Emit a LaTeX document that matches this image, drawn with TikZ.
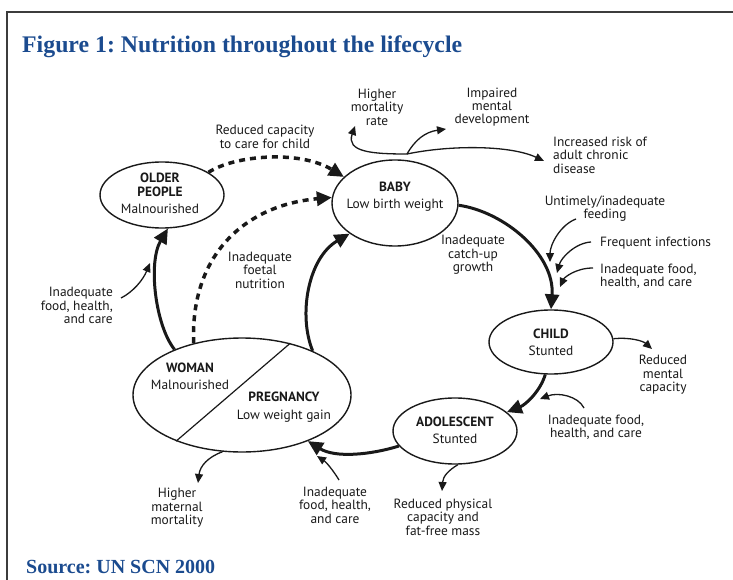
\documentclass[tikz,border=0pt]{standalone}
\usepackage{fontspec}
\setmainfont{PT Sans}
\newfontfamily\headfont{Liberation Serif}
\usetikzlibrary{arrows.meta,shapes.geometric}
\definecolor{headblue}{RGB}{27,75,143}
\definecolor{framegray}{RGB}{60,60,60}
\definecolor{ink}{RGB}{25,25,25}
\frenchspacing
\begin{document}
\begin{tikzpicture}[x=1pt,y=-1pt,
  stage/.style={ellipse, draw=ink, line width=1.4pt, inner sep=0pt},
  lbl/.style={font=\fontsize{13.4}{13.4}\selectfont, text=ink, align=center, inner sep=0pt},
  cycle/.style={line width=3pt, draw=ink, -{Triangle[length=15pt,width=14pt]}},
  dashcycle/.style={line width=3.5pt, draw=ink, dash pattern=on 6pt off 5pt, -{Triangle[length=15pt,width=14pt]}},
  effect/.style={line width=1.3pt, draw=ink, -{Triangle[length=9pt,width=8pt]}},
  heading/.style={text=headblue, inner sep=0pt, anchor=base west},
]
\useasboundingbox (0,0) rectangle (733,580);

% frame
\draw[framegray, line width=1.5pt] (733,12) -- (7,12) -- (7,580);

% headings
\node[heading, font=\fontsize{23.8}{26}\selectfont\headfont\bfseries] (title) at (22,53)
  {Figure 1: Nutrition throughout the lifecycle};
\node[heading, font=\fontsize{20}{24}\selectfont\headfont\bfseries] (source) at (26,573)
  {Source: UN SCN 2000};

% life stages
\node[stage, minimum width=124pt, minimum height=66pt] (older) at (162,195) {};
\node[stage, minimum width=126pt, minimum height=86pt] (baby) at (395,203) {};
\node[stage, minimum width=124pt, minimum height=64pt] (child) at (551,342) {};
\node[stage, minimum width=124pt, minimum height=66pt] (adolescent) at (455,431) {};
\node[stage, minimum width=218pt, minimum height=114pt] (woman) at (242,395) {};
\draw[ink, line width=1.2pt] (woman.47) -- (woman.215);

\node[lbl] (oldertxt) at (160,193.5) {\textbf{OLDER}\\\textbf{PEOPLE}\\[4pt]Malnourished};
\node[lbl] (babytxt) at (395,196.5) {\textbf{BABY}\\[4pt]Low birth weight};
\node[lbl] (childtxt) at (551,342) {\textbf{CHILD}\\[4pt]Stunted};
\node[lbl] (adoltxt) at (455,430) {\textbf{ADOLESCENT}\\[4pt]Stunted};
\node[lbl] (womantxt) at (190,376.5) {\textbf{WOMAN}\\[4pt]Malnourished};
\node[lbl] (pregtxt) at (284,407) {\textbf{PREGNANCY}\\[4pt]Low weight gain};

% main cycle
\draw[cycle] (baby.-2) .. controls (505,212) and (555,255) .. (child.north);
\draw[cycle] (child.-100) .. controls (540,392) and (525,405) .. (adolescent.20);
\draw[cycle] (adolescent.195) .. controls (370,455) and (335,458) .. (woman.-35);
\draw[cycle] (woman.32) .. controls (298,315) and (308,258) .. (baby.214);
\draw[cycle] (woman.146) .. controls (155,325) and (148,262) .. (older.-80);

% intergenerational links
\draw[dashcycle] (older.26) .. controls (235,155) and (300,150) .. (baby.153);
\draw[dashcycle] (woman.133) .. controls (190,255) and (245,205) .. (baby.175);

% outcome and cause labels
\node[lbl] (carelbl) at (265,137) {Reduced capacity\\to care for child};
\node[lbl] (foetallbl) at (260,270) {Inadequate\\foetal\\nutrition};
\node[lbl, align=right, anchor=east] (olderfoodlbl) at (113,305.5) {Inadequate\\food, health,\\and care};
\node[lbl] (mortlbl) at (377,107) {Higher\\mortality\\rate};
\node[lbl] (mentlbl) at (492,107) {Impaired\\mental\\development};
\node[lbl, align=left, anchor=west] (chronlbl) at (553,155) {Increased risk of\\adult chronic\\disease};
\node[lbl] (feedlbl) at (605,208.5) {Untimely/inadequate\\feeding};
\node[lbl, anchor=west] (infectlbl) at (600,243) {Frequent infections};
\node[lbl, align=left, anchor=west] (childfoodlbl) at (600,276) {Inadequate food,\\health, and care};
\node[lbl] (catchlbl) at (473,255) {Inadequate\\catch-up\\growth};
\node[lbl] (mentalcaplbl) at (663,375) {Reduced\\mental\\capacity};
\node[lbl] (adolfoodlbl) at (596,427) {Inadequate food,\\health, and care};
\node[lbl] (physlbl) at (443,517) {Reduced physical\\capacity and\\fat-free mass};
\node[lbl] (pregfoodlbl) at (335,505) {Inadequate\\food, health,\\and care};
\node[lbl] (maternallbl) at (177,508) {Higher\\maternal\\mortality};

% thin arrows
\coordinate (hub) at (407,154);
\coordinate (mortTip) at (355,126);
\coordinate (mentTip) at (446,129);
\coordinate (chronTip) at (544,161);
\draw[effect] (hub) .. controls (372,154) and (346,152) .. (mortTip);
\draw[effect] (hub) .. controls (415,140) and (425,132) .. (mentTip);
\draw[effect] (hub) .. controls (450,145) and (510,145) .. (chronTip);

\coordinate (feedA) at (576,219);
\coordinate (feedATip) at (550,262);
\coordinate (feedB) at (591,242);
\coordinate (feedBTip) at (557,273);
\coordinate (feedC) at (593,268);
\coordinate (feedCTip) at (560,287);
\draw[effect] (feedA) .. controls (560,225) and (550,245) .. (feedATip);
\draw[effect] (feedB) .. controls (575,243) and (561,258) .. (feedBTip);
\draw[effect] (feedC) .. controls (575,268) and (564,278) .. (feedCTip);

\coordinate (mentalTip) at (652,349);
\draw[effect] (child.3) .. controls (630,337) and (643,341) .. (mentalTip);

\coordinate (adolFood) at (584,408);
\coordinate (adolFoodTip) at (540,399);
\draw[effect] (adolFood) .. controls (578,396) and (558,392) .. (adolFoodTip);

\coordinate (physTip) at (442,491);
\draw[effect] (adolescent.-85) .. controls (449,470) and (443,476) .. (physTip);

\coordinate (pregFood) at (339,480);
\coordinate (pregFoodTip) at (317,456);
\draw[effect] (pregFood) .. controls (333,470) and (326,462) .. (pregFoodTip);

\coordinate (maternalTip) at (198,483);
\draw[effect] (woman.251) .. controls (208,457) and (200,466) .. (maternalTip);

\coordinate (olderFood) at (121,298);
\coordinate (olderFoodTip) at (150,263);
\draw[effect] (olderFood) .. controls (133,292) and (143,280) .. (olderFoodTip);
\end{tikzpicture}
\end{document}
